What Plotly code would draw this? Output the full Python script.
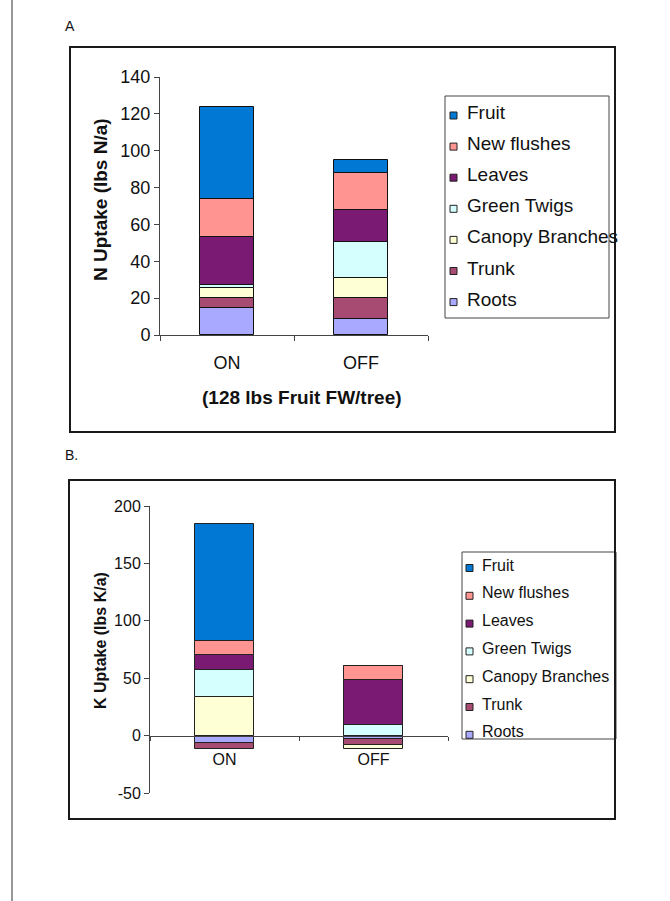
import plotly.graph_objects as go

# ---- data -------------------------------------------------------------
categories = ["ON", "OFF"]
parts = ["Roots", "Trunk", "Canopy Branches", "Green Twigs", "Leaves", "New flushes", "Fruit"]

# Panel A: N uptake (lbs N/a), stacked bottom -> top
n_roots = [14.5, 8.7]
n_trunk = [5.4, 11.4]
n_canopy = [5.4, 10.7]
n_twigs = [1.8, 19.9]
n_leaves = [26.3, 17.4]
n_flushes = [20.2, 19.9]
n_fruit = [50.3, 7.1]

# Panel B: K uptake (lbs K/a), negatives stack below zero
k_roots = [-6.4, -2.9]
k_trunk = [-5.2, -5.5]
k_canopy = [33.7, -2.9]
k_twigs = [23.6, 9.3]
k_leaves = [12.8, 39.0]
k_flushes = [12.5, 11.9]
k_fruit = [101.4, 0.0]

# tick values / labels
n_ticks = [0, 20, 40, 60, 80, 100, 120, 140]
k_ticks = [-50, 0, 50, 100, 150, 200]

colors = ["#A9A9FF", "#A84B73", "#FFFFD6", "#D5FFFF", "#7A1A72", "#FF9490", "#0078D4"]

n_series = [n_roots, n_trunk, n_canopy, n_twigs, n_leaves, n_flushes, n_fruit]
k_series = [k_roots, k_trunk, k_canopy, k_twigs, k_leaves, k_flushes, k_fruit]

# ---- page geometry helpers (pixels -> paper) ---------------------------
W, H = 670, 901
FONT = "Arial, Liberation Sans, sans-serif"


def px(x):
    return x / W


def py(y):
    return 1 - y / H


fig = go.Figure()

for name, color, vals in zip(parts, colors, n_series):
    fig.add_trace(go.Bar(
        x=categories, y=vals, name=name, xaxis="x", yaxis="y",
        marker=dict(color=color, line=dict(color="#111111", width=1)),
        width=0.41, showlegend=False,
    ))

for name, color, vals in zip(parts, colors, k_series):
    fig.add_trace(go.Bar(
        x=categories, y=vals, name=name, xaxis="x2", yaxis="y2",
        marker=dict(color=color, line=dict(color="#222222", width=1)),
        width=0.40, showlegend=False,
    ))

# y-range / domain of panel B, used to place its category axis on zero
yb_range = [-50, 200]
yb_dom = [py(793), py(506)]
zero_pos = yb_dom[0] + (0 - yb_range[0]) / (yb_range[1] - yb_range[0]) * (yb_dom[1] - yb_dom[0])

axis_common = dict(showgrid=False, zeroline=False, showline=True, linecolor="#444444",
                   ticks="outside", tickcolor="#444444", ticklen=5, tickwidth=1,
                   automargin=False)

fig.update_layout(
    template="none",
    width=W, height=H,
    margin=dict(l=0, r=0, t=0, b=0, pad=0),
    paper_bgcolor="white", plot_bgcolor="rgba(0,0,0,0)",
    barmode="relative", bargap=0,
    font=dict(family=FONT, color="#111111"),
    xaxis=dict(domain=[px(160), px(428)], anchor="y", type="category",
               categoryorder="array", categoryarray=categories,
               range=[-0.5, 1.5], tickson="boundaries",
               tickfont=dict(size=18), ticklabelstandoff=11, **axis_common),
    yaxis=dict(domain=[py(335), py(77)], anchor="x", range=[0, 140],
               tickvals=n_ticks, ticktext=[str(v) for v in n_ticks],
               tickfont=dict(size=18), **axis_common),
    xaxis2=dict(domain=[px(150), px(448)], anchor="free", position=zero_pos,
                type="category", categoryorder="array", categoryarray=categories,
                range=[-0.5, 1.5], tickson="boundaries", ticklen=4,
                tickfont=dict(size=16), ticklabelstandoff=9,
                **{k: v for k, v in axis_common.items() if k != "ticklen"}),
    yaxis2=dict(domain=yb_dom, anchor="x2", range=yb_range,
                tickvals=k_ticks, ticktext=[str(v) for v in k_ticks],
                tickfont=dict(size=16), **axis_common),
)

shapes = []
annotations = []

# page rule on the left and the two panel frames
shapes.append(dict(type="line", xref="paper", yref="paper", x0=px(12), x1=px(12), y0=0, y1=1,
                   line=dict(color="#333333", width=1)))
for (x0, y0, x1, y1) in [(70, 47, 615, 432), (69, 480, 615, 819)]:
    shapes.append(dict(type="rect", xref="paper", yref="paper",
                       x0=px(x0), x1=px(x1), y0=py(y1), y1=py(y0),
                       line=dict(color="#1a1a1a", width=2)))

# panel letters
annotations.append(dict(text="A", xref="paper", yref="paper", x=px(63), y=py(26),
                        xanchor="left", yanchor="middle", showarrow=False,
                        font=dict(size=14, family=FONT)))
annotations.append(dict(text="B.", xref="paper", yref="paper", x=px(63), y=py(455),
                        xanchor="left", yanchor="middle", showarrow=False,
                        font=dict(size=14, family=FONT)))

# axis titles
annotations.append(dict(text="<b>N Uptake (lbs N/a)</b>", xref="paper", yref="paper",
                        x=px(100), y=py(199), textangle=-90, showarrow=False,
                        xanchor="center", yanchor="middle", font=dict(size=19, family=FONT)))
annotations.append(dict(text="<b>(128 lbs Fruit FW/tree)</b>", xref="paper", yref="paper",
                        x=px(302), y=py(397), showarrow=False,
                        xanchor="center", yanchor="middle", font=dict(size=19, family=FONT)))
annotations.append(dict(text="<b>K Uptake (lbs K/a)</b>", xref="paper", yref="paper",
                        x=px(100), y=py(640), textangle=-90, showarrow=False,
                        xanchor="center", yanchor="middle", font=dict(size=16, family=FONT)))


# hand-drawn legends
def add_legend(box, first_y, step, sq_x, sq, text_x, size):
    x0, y0, x1, y1 = box
    shapes.append(dict(type="rect", xref="paper", yref="paper",
                       x0=px(x0), x1=px(x1), y0=py(y1), y1=py(y0),
                       line=dict(color="#444444", width=1), fillcolor="white", layer="below"))
    for i, (name, color) in enumerate(zip(reversed(parts), reversed(colors))):
        yc = first_y + i * step
        shapes.append(dict(type="rect", xref="paper", yref="paper",
                           x0=px(sq_x), x1=px(sq_x + sq),
                           y0=py(yc + 3 + sq / 2), y1=py(yc + 3 - sq / 2),
                           fillcolor=color, line=dict(color="#222222", width=1)))
        annotations.append(dict(text=name, xref="paper", yref="paper",
                                x=px(text_x), y=py(yc), xanchor="left", yanchor="middle",
                                showarrow=False, font=dict(size=size, family=FONT)))


add_legend((445, 96, 609, 318), 112.5, 31.1, 450, 7, 465, 19)
add_legend((462, 552, 616, 739), 565.0, 27.8, 466, 7, 480, 16)

fig.update_layout(shapes=shapes, annotations=annotations)

fig.write_html("out.html")
